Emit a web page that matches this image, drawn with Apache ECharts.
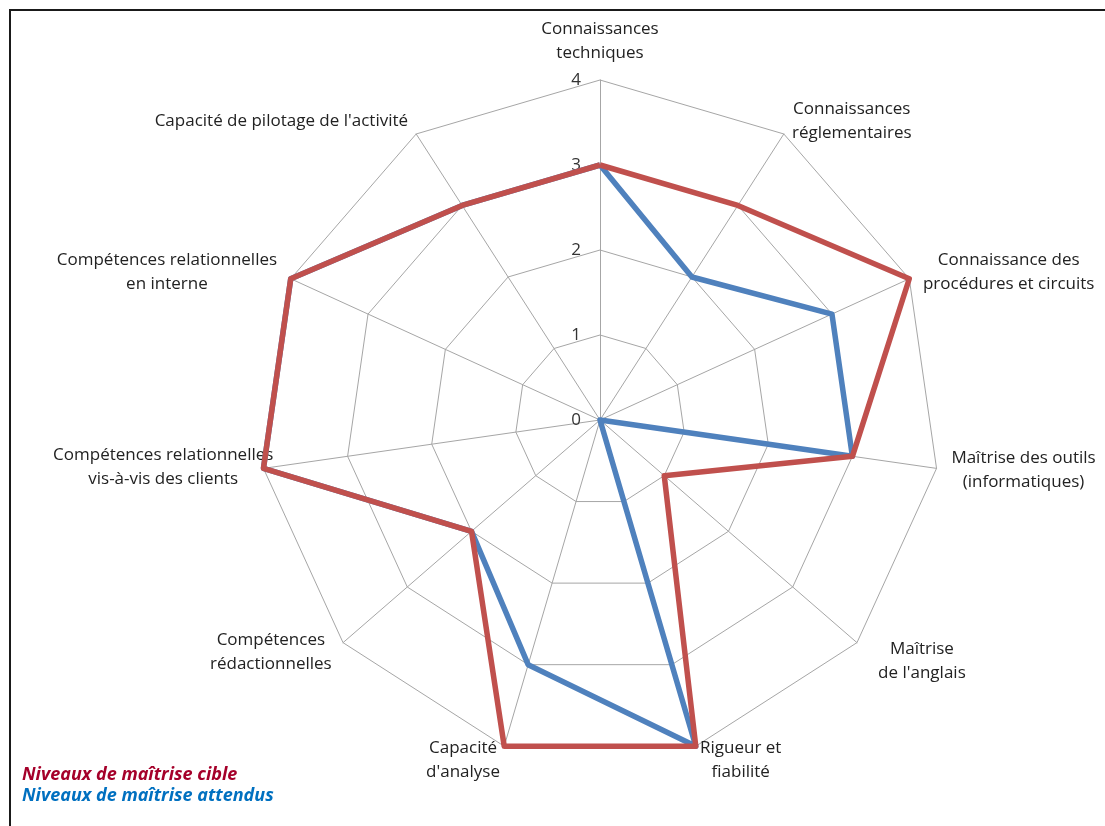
<!DOCTYPE html>
<html>
<head>
<meta charset="utf-8">
<script src="https://cdn.jsdelivr.net/npm/echarts@6/dist/echarts.min.js"></script>
<style>
html,body{margin:0;padding:0;background:#fff;}
#chart{width:1105px;height:826px;}
</style>
</head>
<body>
<div id="chart"></div>
<script>
// Categories listed clockwise from the top
const categories = [
  "Connaissances\ntechniques",
  "Connaissances\nréglementaires",
  "Connaissance des\nprocédures et circuits",
  "Maîtrise des outils\n(informatiques)",
  "Maîtrise\nde l'anglais",
  "Rigueur et\nfiabilité",
  "Capacité\nd'analyse",
  "Compétences\nrédactionnelles",
  "Compétences relationnelles\nvis-à-vis des clients",
  "Compétences relationnelles\nen interne",
  "Capacité de pilotage de l'activité"
];
const cibleName = "Niveaux de maîtrise cible";
const attenduName = "Niveaux de maîtrise attendus";
const cibleValues = [3, 3, 4, 3, 1, 4, 4, 2, 4, 4, 3];
const attenduValues = [3, 2, 3, 3, 0, 4, 3, 2, 4, 4, 3];
const maxLevel = 4;

// ECharts radar runs counter-clockwise: reorder so the chart reads clockwise
const order = [0].concat(categories.map((_, i) => i).slice(1).reverse());
const reorder = arr => order.map(i => arr[i]);

const nameGaps = {4: 28, 8: -10};

const indicator = order.map(i => {
  const ind = { name: categories[i], min: 0, max: maxLevel };
  if (i === 0) ind.axisLabel = { show: true };
  if (nameGaps[i] !== undefined) ind.nameGap = nameGaps[i];
  return ind;
});

const chart = echarts.init(document.getElementById('chart'));
chart.setOption({
  animation: false,
  backgroundColor: '#ffffff',
  textStyle: { fontFamily: 'Open Sans' },
  legend: {
    orient: 'vertical',
    left: 12,
    top: 761,
    itemWidth: 0,
    itemHeight: 0,
    itemGap: 3,
    selectedMode: false,
    data: [
      { name: cibleName, textStyle: { color: '#A5002A' } },
      { name: attenduName, textStyle: { color: '#0070C0' } }
    ],
    textStyle: { fontFamily: 'Open Sans', fontSize: 18, fontWeight: 'bold', fontStyle: 'italic' }
  },
  graphic: [{
    type: 'polyline',
    shape: { points: [[10, 826], [10, 10], [1105, 10]] },
    style: { stroke: '#1a1a1a', lineWidth: 2, fill: null },
    silent: true
  }],
  radar: {
    center: [600, 420],
    radius: 340,
    startAngle: 90,
    shape: 'polygon',
    splitNumber: 4,
    nameGap: 15,
    indicator: indicator,
    axisName: {
      color: '#222',
      fontFamily: 'Open Sans',
      fontSize: 17,
      lineHeight: 24,
      formatter: function (name) {
        return name.split('\n').map(s => '{c|' + s + '}').join('\n');
      },
      rich: { c: { align: 'center', fontFamily: 'Open Sans', fontSize: 17, lineHeight: 24, color: '#222' } }
    },
    axisLine: { show: true, lineStyle: { color: '#a6a6a6', width: 1 } },
    splitLine: { show: true, lineStyle: { color: '#a6a6a6', width: 1 } },
    splitArea: { show: false },
    axisTick: { show: false },
    axisLabel: { show: false, color: '#333', fontSize: 17, fontFamily: 'Open Sans', margin: 19 }
  },
  series: [
    {
      type: 'radar',
      name: attenduName,
      symbol: 'none',
      lineStyle: { color: '#4F81BD', width: 5.5 },
      itemStyle: { color: '#4F81BD' },
      data: [{ value: reorder(attenduValues), name: attenduName }]
    },
    {
      type: 'radar',
      name: cibleName,
      symbol: 'none',
      lineStyle: { color: '#C0504D', width: 5.5 },
      itemStyle: { color: '#C0504D' },
      data: [{ value: reorder(cibleValues), name: cibleName }]
    }
  ]
});
</script>
</body>
</html>
